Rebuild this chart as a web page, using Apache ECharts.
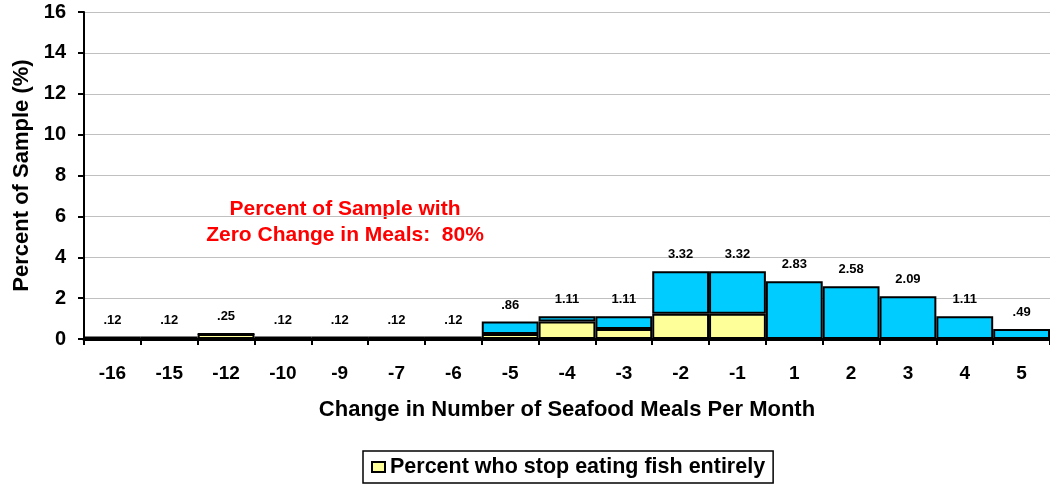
<!DOCTYPE html>
<html>
  <head>
    <meta charset="utf-8">
    <title>Change in seafood meals</title>
    <script src="https://cdn.jsdelivr.net/npm/echarts@6/dist/echarts.min.js"></script>
    <style>
    html, body { margin: 0; padding: 0; background: #fff; }
    #chart { width: 1050px; height: 488px; }
    </style>
  </head>
  <body>
    <div id="chart"></div>
    <script type="text/javascript">
      // data
      var categories = ['-16', '-15', '-12', '-10', '-9', '-7', '-6', '-5', '-4', '-3', '-2', '-1', '1', '2', '3', '4', '5'];
      var totals = [0.12, 0.12, 0.25, 0.12, 0.12, 0.12, 0.12, 0.86, 1.11, 1.11, 3.32, 3.32, 2.83, 2.58, 2.09, 1.11, 0.49];
      var stopAll = [0, 0, 0.25, 0, 0, 0, 0, 0.25, 0.86, 0.49, 1.23, 1.23, 0, 0, 0, 0, 0];
      var yTicks = [0, 2, 4, 6, 8, 10, 12, 14, 16];

      var rest = totals.map(function (t, i) { return +(t - stopAll[i]).toFixed(2); });
      var font = 'Liberation Sans, Arial, sans-serif';

      var chart = echarts.init(document.getElementById('chart'));
      var option = {
        animation: false,
        textStyle: { fontFamily: font },
        grid: { left: 84, right: -6, top: 12, bottom: 149 },
        legend: {
          data: ['Percent who stop eating fish entirely'],
          left: 363, top: 451,
          padding: [5, 8, 5, 8],
          borderColor: '#000', borderWidth: 1.5,
          itemWidth: 13, itemHeight: 10, itemGap: 6,
          icon: 'rect',
          textStyle: { fontFamily: font, fontWeight: 'bold', fontSize: 21.5, color: '#000' }
        },
        xAxis: {
          type: 'category',
          data: categories,
          name: 'Change in Number of Seafood Meals Per Month',
          nameLocation: 'middle',
          nameGap: 60,
          nameTextStyle: { fontFamily: font, fontWeight: 'bold', fontSize: 22, color: '#000' },
          axisLine: { lineStyle: { color: '#000', width: 3 } },
          axisTick: { show: true, length: 6, lineStyle: { color: '#000', width: 2 } },
          axisLabel: { margin: 25, fontFamily: font, fontWeight: 'bold', fontSize: 19, color: '#000' }
        },
        yAxis: {
          type: 'value',
          min: yTicks[0], max: yTicks[yTicks.length - 1], interval: 2,
          name: 'Percent of Sample (%)',
          nameLocation: 'middle',
          nameGap: 51,
          nameRotate: 90,
          nameTextStyle: { fontFamily: font, fontWeight: 'bold', fontSize: 22, color: '#000' },
          axisLine: { show: true, lineStyle: { color: '#000', width: 2 } },
          axisTick: { show: true, length: 6, lineStyle: { color: '#000', width: 2 } },
          axisLabel: { margin: 18, fontFamily: font, fontWeight: 'bold', fontSize: 20, color: '#000' },
          splitLine: { lineStyle: { color: '#c0c0c0', width: 1 } }
        },
        series: [
          {
            name: 'Percent who stop eating fish entirely',
            type: 'bar',
            stack: 'all',
            barCategoryGap: 0,
            data: stopAll,
            itemStyle: { color: '#ffff99', borderColor: '#000', borderWidth: 2 }
          },
          {
            name: 'Others',
            type: 'bar',
            stack: 'all',
            barCategoryGap: 0,
            data: rest,
            itemStyle: { color: '#00ccff', borderColor: '#000', borderWidth: 2 },
            label: {
              show: true,
              position: 'top',
              distance: 10,
              fontFamily: font,
              fontWeight: 'bold',
              fontSize: 13,
              color: '#000',
              formatter: function (p) {
                return totals[p.dataIndex].toFixed(2).replace(/^0/, '');
              }
            }
          }
        ],
        graphic: [
          {
            type: 'text', x: 345, y: 222,
            style: {
              text: 'Percent of Sample with\nZero Change in Meals:  80%',
              fill: '#ff0000', font: 'bold 21px ' + font,
              align: 'center', verticalAlign: 'middle', lineHeight: 26
            }
          }
        ]
      };
      chart.setOption(option);
    </script>
  </body>
</html>
